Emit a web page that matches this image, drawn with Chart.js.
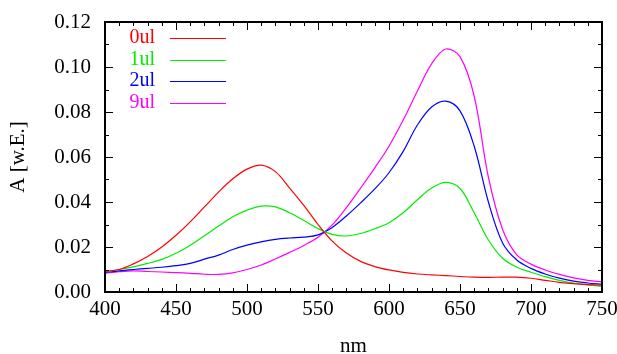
<!DOCTYPE html>
<html>
<head>
<meta charset="utf-8">
<script src="https://cdn.jsdelivr.net/npm/chart.js@4/dist/chart.umd.min.js"></script>
<style>
  html, body { margin: 0; padding: 0; background: #fff; }
  canvas { display: block; }
</style>
</head>
<body>
<canvas id="spectra" width="617" height="354"></canvas>
<script>
// --- data (nm vs absorbance) ---
const wavelengths = [400, 410, 420, 430, 440, 450, 460, 470, 480, 490, 500, 510, 520, 530, 540, 550, 560, 570,
                     580, 590, 600, 610, 620, 630, 640, 650, 660, 670, 680, 690, 700, 710, 720, 730, 740, 750];

const series0ul = [0.0092, 0.0100, 0.0125, 0.0158, 0.0200, 0.0252, 0.0312, 0.0378, 0.0444, 0.0503, 0.0546, 0.0564,
                   0.0535, 0.0462, 0.0385, 0.0300, 0.0226, 0.0173, 0.0136, 0.0113, 0.0098, 0.0087, 0.0080, 0.0076,
                   0.0073, 0.0069, 0.0066, 0.0065, 0.0066, 0.0066, 0.0061, 0.0052, 0.0043, 0.0037, 0.0033, 0.0030];
const series1ul = [0.0090, 0.0100, 0.0112, 0.0127, 0.0145, 0.0172, 0.0208, 0.0250, 0.0293, 0.0334, 0.0364, 0.0382,
                   0.0378, 0.0352, 0.0318, 0.0282, 0.0256, 0.0249, 0.0260, 0.0281, 0.0308, 0.0352, 0.0410, 0.0462,
                   0.0487, 0.0460, 0.0352, 0.0231, 0.0150, 0.0110, 0.0088, 0.0068, 0.0052, 0.0040, 0.0032, 0.0025];
const series2ul = [0.0086, 0.0094, 0.0100, 0.0105, 0.0110, 0.0117, 0.0127, 0.0146, 0.0164, 0.0189, 0.0208, 0.0223,
                   0.0234, 0.0240, 0.0244, 0.0254, 0.0287, 0.0338, 0.0396, 0.0458, 0.0530, 0.0625, 0.0742, 0.0822,
                   0.0848, 0.0805, 0.0648, 0.0400, 0.0218, 0.0142, 0.0105, 0.0080, 0.0062, 0.0048, 0.0040, 0.0034];
const series9ul = [0.0083, 0.0090, 0.0094, 0.0091, 0.0089, 0.0086, 0.0083, 0.0079, 0.0078, 0.0085, 0.0100, 0.0120,
                   0.0147, 0.0176, 0.0207, 0.0243, 0.0298, 0.0375, 0.0462, 0.0552, 0.0648, 0.0764, 0.0893, 0.1014,
                   0.1080, 0.1046, 0.0870, 0.0510, 0.0278, 0.0165, 0.0124, 0.0098, 0.0078, 0.0063, 0.0052, 0.0045];

const seriesLabels = ['0ul', '1ul', '2ul', '9ul'];
const seriesColors = ['#ff0000', '#00ee00', '#0000ff', '#ff00ff'];
const xTicks = [400, 450, 500, 550, 600, 650, 700, 750];
const yTicks = [0, 0.02, 0.04, 0.06, 0.08, 0.10, 0.12];

const FONT = '"Liberation Serif", "DejaVu Serif", serif';

// combine x and y for the linear x axis
const toPoints = arr => arr.map((v, i) => ({ x: wavelengths[i], y: v }));

// gnuplot-like frame: box, inward ticks on all sides, legend inside top-left
const gnuplotFrame = {
    id: 'gnuplotFrame',
    afterDatasetsDraw(chart) {
        const { ctx, chartArea: a, scales: { x, y } } = chart;
        ctx.save();
        ctx.strokeStyle = '#000';
        ctx.lineWidth = 1;
        ctx.beginPath();
        // x ticks (major 50, minor 10)
        for (let v = xTicks[0]; v <= xTicks[xTicks.length - 1]; v += 10) {
            const px = Math.round(x.getPixelForValue(v)) + 0.5;
            const len = xTicks.includes(v) ? 8 : 4;
            ctx.moveTo(px, a.bottom); ctx.lineTo(px, a.bottom - len);
            ctx.moveTo(px, a.top); ctx.lineTo(px, a.top + len);
        }
        // y ticks (major 0.02, minor 0.01)
        for (let i = 0; i <= 12; i++) {
            const py = Math.round(y.getPixelForValue(i * 0.01)) + 0.5;
            const len = i % 2 === 0 ? 8 : 4;
            ctx.moveTo(a.left, py); ctx.lineTo(a.left + len, py);
            ctx.moveTo(a.right, py); ctx.lineTo(a.right - len, py);
        }
        ctx.stroke();

        ctx.lineWidth = 2;
        ctx.strokeRect(a.left, a.top, a.right - a.left, a.bottom - a.top);

        // legend
        ctx.font = '20px ' + FONT;
        ctx.textAlign = 'right';
        ctx.textBaseline = 'middle';
        ctx.lineWidth = 1;
        chart.data.datasets.forEach((ds, i) => {
            const ly = a.top + 16 + i * 21.5;
            ctx.fillStyle = ds.borderColor;
            ctx.fillText(ds.label, a.left + 50, ly);
            ctx.strokeStyle = ds.borderColor;
            ctx.beginPath();
            ctx.moveTo(a.left + 65, Math.round(ly) + 0.5);
            ctx.lineTo(a.left + 121, Math.round(ly) + 0.5);
            ctx.stroke();
        });
        ctx.restore();
    }
};

const allSeries = [series0ul, series1ul, series2ul, series9ul];

new Chart(document.getElementById('spectra'), {
    type: 'line',
    data: {
        datasets: allSeries.map((s, i) => ({
            label: seriesLabels[i],
            data: toPoints(s),
            borderColor: seriesColors[i],
            borderWidth: 1.2,
            pointRadius: 0,
            tension: 0.35,
            fill: false
        }))
    },
    options: {
        responsive: false,
        animation: false,
        layout: { padding: { top: 22, right: 15, bottom: 0, left: 0 } },
        plugins: {
            legend: { display: false },
            tooltip: { enabled: false }
        },
        scales: {
            x: {
                type: 'linear',
                min: 400,
                max: 750,
                afterFit: s => { s.height = 62; s.paddingLeft = 0; s.paddingRight = 0; },
                afterBuildTicks: s => { s.ticks = xTicks.map(v => ({ value: v })); },
                grid: { display: false, drawTicks: false },
                border: { display: false },
                ticks: {
                    color: '#000',
                    font: { family: FONT, size: 21 },
                    padding: 5,
                    maxRotation: 0,
                    autoSkip: false
                },
                title: {
                    display: true,
                    text: 'nm',
                    color: '#000',
                    font: { family: FONT, size: 21, lineHeight: 0.7 },
                    padding: { top: 0, bottom: 0 }
                }
            },
            y: {
                min: 0,
                max: 0.12,
                afterFit: s => { s.width = 105; s.paddingTop = 0; s.paddingBottom = 0; },
                afterBuildTicks: s => { s.ticks = yTicks.map(v => ({ value: v })); },
                grid: { display: false, drawTicks: false },
                border: { display: false },
                ticks: {
                    color: '#000',
                    font: { family: FONT, size: 21 },
                    padding: 14,
                    callback: v => v.toFixed(2)
                },
                title: {
                    display: true,
                    text: 'A [w.E.]',
                    color: '#000',
                    font: { family: FONT, size: 21, lineHeight: 1 },
                    padding: { top: 8, bottom: 0 }
                }
            }
        }
    },
    plugins: [gnuplotFrame]
});
</script>
</body>
</html>
